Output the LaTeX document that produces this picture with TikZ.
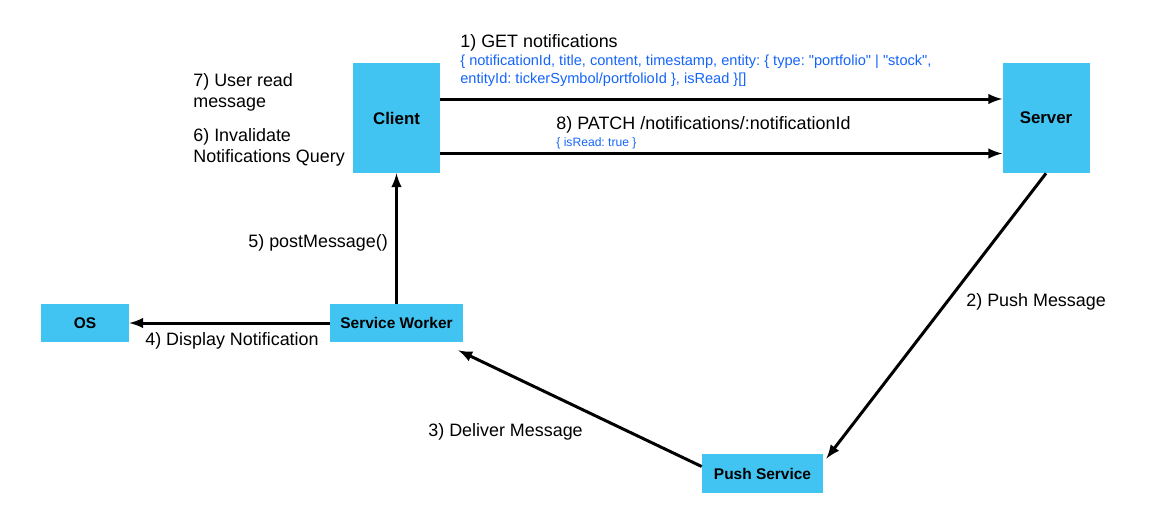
\documentclass[tikz,border=0pt]{standalone}
\usepackage{fontspec}
\setmainfont{Liberation Sans}
\definecolor{boxblue}{RGB}{66,196,242}
\definecolor{noteblue}{RGB}{20,100,250}

\tikzset{
  box/.style={rectangle, fill=boxblue, inner sep=0, font=\bfseries\fontsize{8.8}{10}\selectfont},
  bigbox/.style={box, minimum width=1.74cm, minimum height=2.2cm, font=\bfseries\fontsize{9.6}{12}\selectfont},
  lbl/.style={anchor=west, inner sep=0, align=left, font=\fontsize{10.2}{12}\selectfont},
  note/.style={lbl, text=noteblue, font=\fontsize{6.9}{10.2}\selectfont},
  flow/.style={-latex, draw=black, line width=1.7pt},
}

\begin{document}
\frenchspacing
\begin{tikzpicture}[x=0.02cm, y=-0.02cm]
\useasboundingbox (0,0) rectangle (1149,528);

\node [bigbox] (Client) at (396.5, 118) {Client};
\node [bigbox] (Server) at (1046, 118) {Server};
\node [box, minimum width=1.76cm, minimum height=0.76cm] (OS) at (85, 323) {OS};
\node [box, minimum width=2.66cm, minimum height=0.76cm] (SW) at (396.5, 323) {Service Worker};
\node [box, minimum width=2.42cm, minimum height=0.78cm] (PS) at (762.5, 473.5) {Push Service};

\draw [flow] ([yshift=0.38cm]Client.east) to ([yshift=0.38cm]Server.west);
\draw [flow] ([yshift=-0.71cm]Client.east) to ([yshift=-0.71cm]Server.west);
\draw [flow] (Server.south) to ([shift={(3,5)}]PS.north east);
\draw [flow] ([yshift=0.14cm]PS.west) to ([shift={(-5,8)}]SW.south east);
\draw [flow] (SW.north) to (Client.south);
\draw [flow] (SW.west) to (OS.east);

\node [lbl] (get) at (460, 43) {1) GET notifications};
\node [note, font=\fontsize{8.3}{10.2}\selectfont] (getbody) at (460, 71) {\{ notificationId, title, content, timestamp, entity: \{ type: \textquotedbl portfolio\textquotedbl{} | \textquotedbl stock\textquotedbl,\\entityId: tickerSymbol/portfolioId \}, isRead \}[]};
\node [lbl] (read) at (193, 92) {7) User read\\message};
\node [lbl] (invalidate) at (193, 147) {6) Invalidate\\Notifications Query};
\node [lbl] (patch) at (556, 125) {8) PATCH /notifications/:notificationId};
\node [note] (patchbody) at (556, 143) {\{ isRead: true \}};
\node [lbl] (post) at (248, 243) {5) postMessage()};
\node [lbl] (display) at (145, 341) {4) Display Notification};
\node [lbl] (deliver) at (428, 432) {3) Deliver Message};
\node [lbl] (push) at (966, 302) {2) Push Message};

\end{tikzpicture}
\end{document}
